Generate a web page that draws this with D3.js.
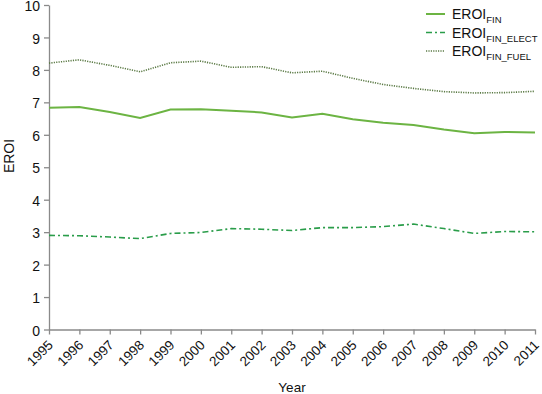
<!DOCTYPE html>
<html>
<head>
<meta charset="utf-8">
<script src="https://cdn.jsdelivr.net/npm/d3@7"></script>
<style>
  body { margin: 0; background: #fff; }
  text { font-family: "Liberation Sans", Arial, sans-serif; fill: #111; }
</style>
</head>
<body>
<script>
// Data
var years = [1995, 1996, 1997, 1998, 1999, 2000, 2001, 2002, 2003, 2004, 2005, 2006, 2007, 2008, 2009, 2010, 2011];
var eroiFin   = [6.83, 6.86, 6.70, 6.52, 6.78, 6.79, 6.74, 6.69, 6.53, 6.65, 6.48, 6.37, 6.30, 6.16, 6.05, 6.09, 6.07];
var eroiElect = [2.90, 2.89, 2.85, 2.80, 2.96, 2.99, 3.11, 3.09, 3.05, 3.14, 3.14, 3.17, 3.25, 3.11, 2.96, 3.02, 3.01];
var eroiFuel  = [8.21, 8.31, 8.14, 7.94, 8.22, 8.27, 8.08, 8.10, 7.91, 7.96, 7.74, 7.55, 7.43, 7.33, 7.29, 7.30, 7.34];
var yTicks = [0, 1, 2, 3, 4, 5, 6, 7, 8, 9, 10];

var series = [
  {name: "FIN",       values: eroiFin,   color: "#6cb443", dash: null,      width: 2},
  {name: "FIN_ELECT", values: eroiElect, color: "#2a9d4a", dash: "6,3,2,3", width: 1.6},
  {name: "FIN_FUEL",  values: eroiFuel,  color: "#5b7a45", dash: "1.2,1.2", width: 1.6}
];

var margin = {top: 5, right: 7, bottom: 64, left: 49},
    width = 542 - margin.left - margin.right,
    height = 394 - margin.top - margin.bottom;

var x = d3.scaleLinear().domain([1995, 2011]).range([0, width]);
var y = d3.scaleLinear().domain([0, 10]).range([324.5, 0]);

var svg = d3.select("body").append("svg")
    .attr("width", 542)
    .attr("height", 394)
  .append("g")
    .attr("transform", "translate(" + margin.left + "," + margin.top + ")");

// axes
var xAxis = d3.axisBottom(x).tickValues(years).tickFormat(d3.format("d")).tickSize(5).tickSizeOuter(0);
var yAxis = d3.axisLeft(y).tickValues(yTicks).tickSize(5).tickSizeOuter(0);

var gx = svg.append("g")
    .attr("transform", "translate(0," + y(0) + ")")
    .call(xAxis);
gx.selectAll(".tick text")
    .attr("font-size", 13.5)
    .attr("text-anchor", "end")
    .attr("x", 0)
    .attr("y", 0)
    .attr("dy", "0.35em")
    .attr("transform", "translate(1,13) rotate(-45)");

var gy = svg.append("g").call(yAxis);
gy.selectAll(".tick text").attr("font-size", 14).attr("x", -9).attr("dy", "0.4em");

svg.selectAll(".domain, .tick line").attr("stroke", "#8a8a8a").attr("stroke-width", 1.3);

// axis labels
svg.append("text")
    .attr("x", 292 - margin.left)
    .attr("y", 392 - margin.top)
    .attr("text-anchor", "middle")
    .attr("font-size", 13.5)
    .text("Year");

svg.append("text")
    .attr("transform", "rotate(-90)")
    .attr("x", -(156 - margin.top))
    .attr("y", 14 - margin.left)
    .attr("text-anchor", "middle")
    .attr("font-size", 14)
    .text("EROI");

// lines
var line = d3.line()
    .x(function(d, i) { return x(years[i]); })
    .y(function(d) { return y(d); });

series.forEach(function(s) {
  svg.append("path")
      .attr("d", line(s.values))
      .attr("fill", "none")
      .attr("stroke", s.color)
      .attr("stroke-width", s.width)
      .attr("stroke-dasharray", s.dash);
});

// legend
var legend = svg.append("g").attr("transform", "translate(" + (426 - margin.left) + "," + (14 - margin.top) + ")");
series.forEach(function(s, i) {
  var g = legend.append("g").attr("transform", "translate(0," + (i * 18.5) + ")");
  g.append("line")
      .attr("x1", 0).attr("x2", 19)
      .attr("stroke", s.color)
      .attr("stroke-width", s.width)
      .attr("stroke-dasharray", s.dash);
  var t = g.append("text")
      .attr("x", 26)
      .attr("y", 5)
      .attr("font-size", 14);
  t.append("tspan").text("EROI");
  t.append("tspan").attr("font-size", 9.5).attr("dy", 4).text(s.name);
});
</script>
</body>
</html>
